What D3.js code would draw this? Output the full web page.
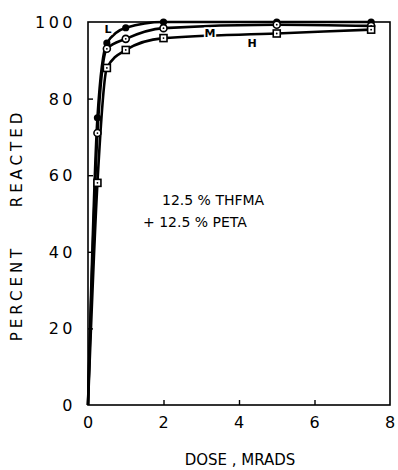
<!DOCTYPE html>
<html>
<head>
<meta charset="utf-8">
<script src="https://cdn.jsdelivr.net/npm/d3@7"></script>
<style>
  body { margin: 0; background: #fff; }
  svg { display: block; }
</style>
</head>
<body>
<div id="chart"></div>
<script>
// dose in Mrads, percent reacted for each curve (L, M, H)
const doses = [0, 0.25, 0.5, 1, 2, 5, 7.5];
const seriesL = [0, 75, 94.5, 98.5, 100, 100, 100];
const seriesM = [0, 71, 93, 95.6, 98.4, 99.3, 99];
const seriesH = [0, 58, 88, 92.7, 95.8, 97, 98];
const seriesNames = ["L", "M", "H"];
const xTicks = [0, 2, 4, 6, 8];
const yTicks = [0, 20, 40, 60, 80, 100];

const
    width = 398,
    height = 470,
    font = "DejaVu Sans, sans-serif";

const svg = d3.select("#chart")
    .append("svg")
    .attr("viewBox", [0, 0, width, height])
    .attr("width", width)
    .attr("height", height)
    .style("font-family", font);

const x = d3.scaleLinear().domain([0, 8]).range([88, 390]);
const y = d3.scaleLinear().domain([0, 100]).range([405, 22]);

// frame
svg.append("rect")
    .attr("x", x(0))
    .attr("y", y(100))
    .attr("width", x(8) - x(0))
    .attr("height", y(0) - y(100))
    .attr("fill", "none")
    .attr("stroke", "#000")
    .attr("stroke-width", 1.6);

// inward ticks
const xAxis = svg.append("g")
    .attr("transform", `translate(0,${y(0)})`)
    .call(d3.axisTop(x).tickValues(xTicks.slice(1, -1)).tickSize(5).tickFormat(""));
const yAxis = svg.append("g")
    .attr("transform", `translate(${x(0)},0)`)
    .call(d3.axisRight(y).tickValues(yTicks.slice(1, -1)).tickSize(5).tickFormat(""));
[xAxis, yAxis].forEach(g => {
    g.select(".domain").remove();
    g.selectAll("line").attr("stroke", "#000").attr("stroke-width", 1.4);
});

// tick labels
svg.selectAll(".xlab")
    .data(xTicks)
    .join("text")
    .attr("x", d => x(d))
    .attr("y", 428)
    .attr("text-anchor", "middle")
    .attr("font-size", 16)
    .text(d => d);

svg.selectAll(".ylab")
    .data(yTicks)
    .join("text")
    .attr("x", 76)
    .attr("y", d => y(d) + 6)
    .attr("text-anchor", "end")
    .attr("font-size", 16)
    .attr("letter-spacing", 3.5)
    .text(d => d);

// axis titles
svg.append("text")
    .attr("x", 240)
    .attr("y", 465)
    .attr("text-anchor", "middle")
    .attr("font-size", 15)
    .text("DOSE , MRADS");

[["REACTED", 158], ["PERCENT", 293]].forEach(([t, cy]) => {
    svg.append("text")
        .attr("transform", `translate(22,${cy}) rotate(-90)`)
        .attr("text-anchor", "middle")
        .attr("font-size", 15)
        .attr("letter-spacing", 4)
        .text(t);
});

// curves
const line = d3.line()
    .x(d => x(d[0]))
    .y(d => y(d[1]))
    .curve(d3.curveMonotoneX);

const series = [seriesL, seriesM, seriesH].map((vals, i) => ({
    name: seriesNames[i],
    points: doses.map((d, j) => [d, vals[j]])
}));

svg.selectAll(".curve")
    .data(series)
    .join("path")
    .attr("d", s => line(s.points))
    .attr("fill", "none")
    .attr("stroke", "#000")
    .attr("stroke-width", 2.6);

// markers (skip the origin)
series.forEach(s => {
    const pts = s.points.slice(1);
    const g = svg.append("g");
    if (s.name === "L") {
        g.selectAll("circle").data(pts).join("circle")
            .attr("cx", d => x(d[0])).attr("cy", d => y(d[1])).attr("r", 3.6)
            .attr("fill", "#000");
    } else if (s.name === "M") {
        g.selectAll("circle").data(pts).join("circle")
            .attr("cx", d => x(d[0])).attr("cy", d => y(d[1])).attr("r", 3.5)
            .attr("fill", "#fff").attr("stroke", "#000").attr("stroke-width", 1.6);
    } else {
        g.selectAll("rect").data(pts).join("rect")
            .attr("x", d => x(d[0]) - 3.5).attr("y", d => y(d[1]) - 3.5)
            .attr("width", 7).attr("height", 7)
            .attr("fill", "#fff").attr("stroke", "#000").attr("stroke-width", 1.6);
    }
    if (s.name !== "L") {
        g.selectAll(".dot").data(pts).join("circle")
            .attr("cx", d => x(d[0])).attr("cy", d => y(d[1])).attr("r", 0.9)
            .attr("fill", "#000");
    }
});

// curve labels, with a white halo where they sit on a line
[["L", 108, 33], ["M", 210, 37], ["H", 252, 47]].forEach(([t, lx, ly]) => {
    svg.append("text")
        .attr("x", lx)
        .attr("y", ly)
        .attr("text-anchor", "middle")
        .attr("font-size", 11)
        .attr("font-weight", "bold")
        .attr("stroke", "#fff")
        .attr("stroke-width", 3)
        .attr("paint-order", "stroke")
        .text(t);
});

// annotation
svg.append("text")
    .attr("x", 162)
    .attr("y", 205)
    .attr("font-size", 14)
    .text("12.5 % THFMA");
svg.append("text")
    .attr("x", 143)
    .attr("y", 227)
    .attr("font-size", 14)
    .text("+ 12.5 % PETA");
</script>
</body>
</html>
